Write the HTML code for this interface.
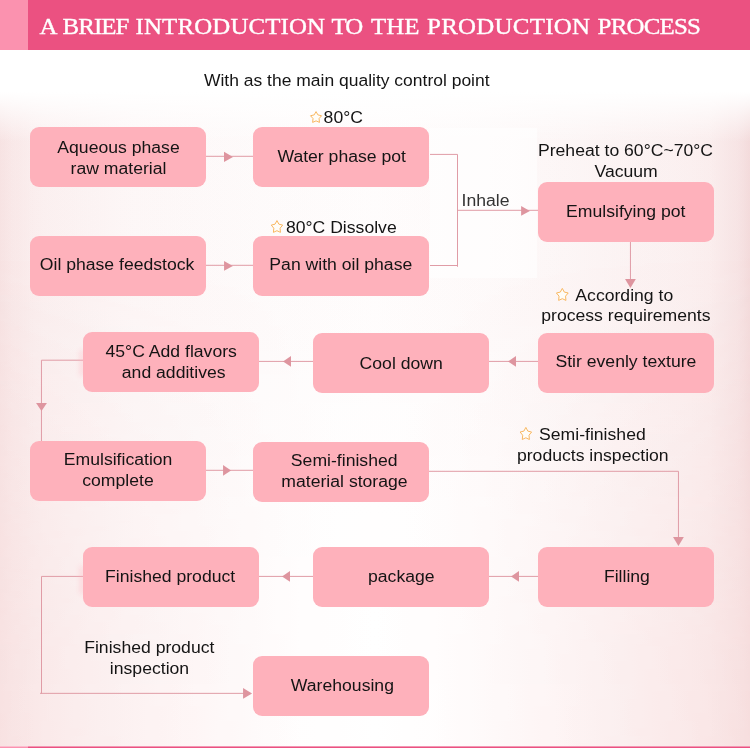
<!DOCTYPE html>
<html lang="en">
<head>
<meta charset="utf-8">
<title>A brief introduction to the production process</title>
<style>
html,body{margin:0;padding:0;background:#fff;}
body{width:750px;height:748px;overflow:hidden;position:relative;font-family:"Liberation Sans",Arial,sans-serif;}
.hdr{position:absolute;left:0;top:0;width:750px;height:49.5px;background:#eb5181;will-change:transform;}
.hdr .tab{position:absolute;left:0;top:0;width:28px;height:100%;background:#fb92af;}
.hdr h1{position:absolute;left:0;top:11.5px;width:750px;height:28px;margin:0;font:normal 24.9px/28px "Liberation Serif","Times New Roman",serif;color:#fff;white-space:nowrap;transform:scaleY(0.95);transform-origin:0 100%;-webkit-text-stroke:0.4px #fff;}
.hdr h1 span{position:absolute;top:0;}
.bg{position:absolute;left:0;top:50px;width:750px;height:696.5px;
 background:
  linear-gradient(to bottom,#fff 0,#fff 42px,rgba(255,255,255,0) 92px),
  linear-gradient(to left,rgba(240,210,211,.62) 0,rgba(243,218,219,.4) 12px,rgba(248,230,230,0) 40px),
  linear-gradient(to right,rgba(243,218,218,.4) 0,rgba(246,224,224,.22) 12px,rgba(248,230,230,0) 34px),
  linear-gradient(to bottom,rgba(250,236,236,.1) 0,rgba(250,236,236,.1) 250px,rgba(252,240,240,0) 470px),
  linear-gradient(to right,#f9e8e8 0,#fbf0f0 6%,#fdf8f8 18%,#fefcfc 35%,#fffefe 50%,#fefbfb 65%,#fcf5f5 80%,#fbf0f0 92%,#f9e9e9 100%);}
.bg2{position:absolute;left:0;top:50px;width:750px;height:696.5px;
 background:linear-gradient(to right,#f8e1e1 0,#faeaea 10%,#fdf4f4 26%,#fffdfd 40%,#ffffff 50%,#fffdfd 58%,#fdf3f3 74%,#fae8e8 88%,#f8dfdf 100%);
 -webkit-mask-image:linear-gradient(to bottom,rgba(0,0,0,0) 0,rgba(0,0,0,0) 200px,rgba(0,0,0,.65) 600px,rgba(0,0,0,.7) 100%);
 mask-image:linear-gradient(to bottom,rgba(0,0,0,0) 0,rgba(0,0,0,0) 200px,rgba(0,0,0,.65) 600px,rgba(0,0,0,.7) 100%);}
.ftr{position:absolute;left:0;top:746px;width:750px;height:2px;background:linear-gradient(to bottom,#f297b3 0,#f297b3 1px,#eb5181 1px,#eb5181 2px);}
.ftr i{position:absolute;left:0;top:0;width:28px;height:100%;background:linear-gradient(to bottom,#fcbdcf 0,#fcbdcf 1px,#fb92af 1px,#fb92af 2px);}
svg{position:absolute;left:0;top:0;will-change:transform;}
svg text{font-family:"Liberation Sans",Arial,sans-serif;font-size:17.62px;fill:#141414;text-anchor:middle;}
</style>
</head>
<body>
<div class="bg"></div>
<div class="bg2"></div>
<div class="hdr"><div class="tab"></div><h1><span style="left:39.5px;letter-spacing:0.00px">A</span> <span style="left:62.6px;letter-spacing:-0.95px">BRIEF</span> <span style="left:135.6px;letter-spacing:0.13px">INTRODUCTION</span> <span style="left:331.4px;letter-spacing:-1.00px">TO</span> <span style="left:371.0px;letter-spacing:0.00px">THE</span> <span style="left:427.0px;letter-spacing:0.29px">PRODUCTION</span> <span style="left:597.6px;letter-spacing:-0.77px">PROCESS</span></h1></div>
<div class="ftr"><i></i></div>
<svg width="750" height="748" viewBox="0 0 750 748">

<rect x="430" y="128" width="107" height="150" fill="#ffffff" opacity="0.6"/>
<g fill="none" stroke="#e09ca6" stroke-width="1">
<polyline points="206.00,156.30 253.00,156.30"/>
<polyline points="206.00,265.30 253.00,265.30"/>
<polyline points="430.00,154.40 457.50,154.40 457.50,266.80"/>
<polyline points="430.00,265.50 457.50,265.50"/>
<polyline points="457.50,210.30 538.00,210.30"/>
<polyline points="630.44,242.00 630.44,280.00"/>
<polyline points="538.00,361.40 489.00,361.40"/>
<polyline points="313.00,361.40 259.00,361.40"/>
<polyline points="83.00,360.20 41.45,360.20 41.45,441.00"/>
<polyline points="206.00,470.30 253.00,470.30"/>
<polyline points="429.00,471.30 678.44,471.30 678.44,538.00"/>
<polyline points="538.00,576.40 489.00,576.40"/>
<polyline points="313.00,576.40 259.00,576.40"/>
<polyline points="83.00,576.40 41.50,576.40 41.50,693.35 40.30,693.35 244.00,693.35"/>
</g>
<g fill="#de959f">
<polygon points="233.00,156.90 224.00,151.85 224.00,161.95"/>
<polygon points="232.85,265.90 224.05,261.00 224.05,270.80"/>
<polygon points="529.90,210.95 521.10,206.05 521.10,215.85"/>
<polygon points="231.05,470.44 223.05,465.04 223.05,475.84"/>
<polygon points="252.06,693.44 243.06,688.04 243.06,698.84"/>
<polygon points="283.00,361.45 291.00,356.05 291.00,366.85"/>
<polygon points="508.00,361.45 516.00,356.05 516.00,366.85"/>
<polygon points="511.00,576.44 519.00,571.04 519.00,581.84"/>
<polygon points="282.00,576.44 290.00,571.04 290.00,581.84"/>
<polygon points="630.44,287.90 625.04,279.10 635.84,279.10"/>
<polygon points="41.50,410.90 36.05,402.90 46.95,402.90"/>
<polygon points="678.44,545.90 673.04,537.10 683.84,537.10"/>
</g>
<defs><filter id="gl" x="-200%" y="-50%" width="500%" height="200%"><feGaussianBlur stdDeviation="2.6"/></filter></defs>
<g fill="#ffb4c0" opacity="0.35" filter="url(#gl)"><rect x="79.5" y="566" width="6" height="28"/><rect x="79.5" y="350" width="6" height="26"/></g>
<g fill="#feb1bb">
<rect x="30" y="127" width="176" height="60" rx="9" ry="9"/>
<rect x="253" y="127" width="176" height="60" rx="9" ry="9"/>
<rect x="30" y="236" width="176" height="60" rx="9" ry="9"/>
<rect x="253" y="236" width="176" height="60" rx="9" ry="9"/>
<rect x="538" y="182" width="176" height="60" rx="9" ry="9"/>
<rect x="83" y="332" width="176" height="60" rx="9" ry="9"/>
<rect x="313" y="333" width="176" height="60" rx="9" ry="9"/>
<rect x="538" y="333" width="176" height="60" rx="9" ry="9"/>
<rect x="30" y="441" width="176" height="60" rx="9" ry="9"/>
<rect x="253" y="442" width="176" height="60" rx="9" ry="9"/>
<rect x="83" y="547" width="176" height="60" rx="9" ry="9"/>
<rect x="313" y="547" width="176" height="60" rx="9" ry="9"/>
<rect x="538" y="547" width="176" height="60" rx="9" ry="9"/>
<rect x="253" y="656" width="176" height="60" rx="9" ry="9"/>
</g>
<g fill="#fffdf8" stroke="#f8b761" stroke-width="1" stroke-linejoin="round">
<polygon points="316.05,111.60 317.93,114.91 321.57,115.72 319.08,118.59 319.46,122.40 316.05,120.86 312.64,122.40 313.02,118.59 310.53,115.72 314.17,114.91"/>
<polygon points="276.95,220.58 278.89,224.20 282.66,225.08 280.09,228.21 280.48,232.38 276.95,230.69 273.42,232.38 273.81,228.21 271.24,225.08 275.01,224.20"/>
<polygon points="562.30,288.40 564.30,292.08 568.20,292.98 565.54,296.16 565.94,300.40 562.30,298.68 558.66,300.40 559.06,296.16 556.40,292.98 560.30,292.08"/>
<polygon points="525.85,427.40 527.81,431.12 531.60,432.02 529.01,435.23 529.41,439.50 525.85,437.77 522.29,439.50 522.69,435.23 520.10,432.02 523.89,431.12"/>
</g>
<g transform="scale(1,0.93)">
<text x="346.8" y="92.47" style="font-size:17.5px">With as the main quality control point</text>
<text x="118.5" y="164.52">Aqueous phase</text>
<text x="118.5" y="187.10">raw material</text>
<text x="341.7" y="174.19">Water phase pot</text>
<text x="117.1" y="290.32">Oil phase feedstock</text>
<text x="340.8" y="290.32">Pan with oil phase</text>
<text x="343.3" y="132.26">80°C</text>
<text x="341.3" y="250.54">80°C Dissolve</text>
<text x="485.6" y="221.29" fill="#333" style="fill:#333">Inhale</text>
<text x="625.5" y="167.74">Preheat to 60°C~70°C</text>
<text x="626.1" y="190.32">Vacuum</text>
<text x="625.8" y="233.33">Emulsifying pot</text>
<text x="624.3" y="323.66">According to</text>
<text x="625.9" y="345.48">process requirements</text>
<text x="171.2" y="384.41">45°C Add flavors</text>
<text x="173.7" y="406.77">and additives</text>
<text x="401.2" y="396.77">Cool down</text>
<text x="625.9" y="394.62">Stir evenly texture</text>
<text x="118.1" y="500.00">Emulsification</text>
<text x="118" y="522.90">complete</text>
<text x="344.2" y="501.08">Semi-finished</text>
<text x="344.5" y="523.66">material storage</text>
<text x="592.4" y="473.33">Semi-finished</text>
<text x="592.8" y="495.70">products inspection</text>
<text x="170.1" y="626.34">Finished product</text>
<text x="401.3" y="626.34">package</text>
<text x="626.9" y="626.34">Filling</text>
<text x="149.3" y="702.15">Finished product</text>
<text x="149.5" y="724.95">inspection</text>
<text x="342.4" y="743.01">Warehousing</text>
</g>
</svg>
</body>
</html>
